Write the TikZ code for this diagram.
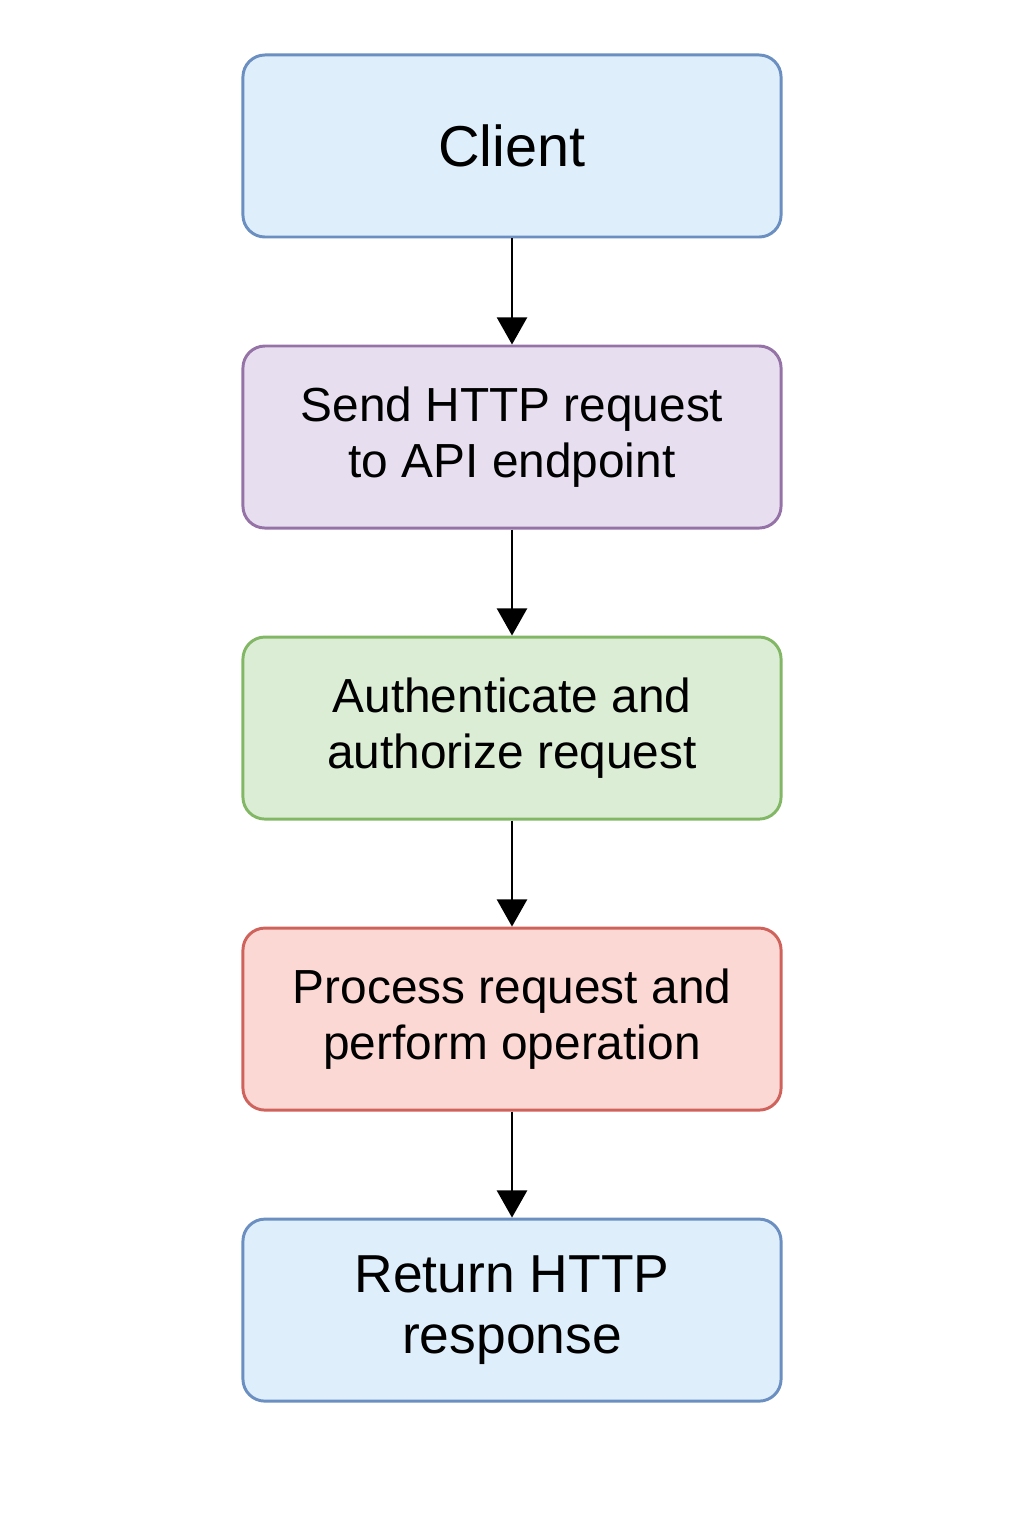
\documentclass[tikz,border=0pt]{standalone}
\usepackage{fontspec}
\setmainfont{Liberation Sans}
\usepackage{xcolor}
\usepackage{tikz}
\usetikzlibrary{arrows.meta,positioning}

\definecolor{bluefill}{HTML}{DFEEFB}
\definecolor{bluedraw}{HTML}{6A8FC0}
\definecolor{purplefill}{HTML}{E7DFF0}
\definecolor{purpledraw}{HTML}{9673A6}
\definecolor{greenfill}{HTML}{DCEDD6}
\definecolor{greendraw}{HTML}{82B865}
\definecolor{redfill}{HTML}{FBD8D3}
\definecolor{reddraw}{HTML}{D0625C}

\begin{document}
\begin{tikzpicture}[x=0.025cm, y=-0.025cm, node distance=2.65cm,
    every node/.style={font=\fontsize{34}{40}\selectfont},
    flowbox/.style={rectangle, rounded corners=0.55cm, line width=2.1pt,
        minimum width=13.45cm, minimum height=4.55cm, align=center, inner sep=0pt},
    flowarrow/.style={-{Triangle[width=0.75cm, length=0.68cm]}, line width=1.9pt}]
        % page frame
        \useasboundingbox (0,0) rectangle (1024,1536);

        % Steps
        \node[flowbox, draw=bluedraw, fill=bluefill,
              font=\fontsize{41}{46}\selectfont] (client) at (512,146) {Client};
        \node[flowbox, draw=purpledraw, fill=purplefill, below=of client] (send)
            {Send HTTP request\\to API endpoint};
        \node[flowbox, draw=greendraw, fill=greenfill, below=of send] (auth)
            {Authenticate and\\authorize request};
        \node[flowbox, draw=reddraw, fill=redfill, below=of auth] (process)
            {Process request and\\perform operation};
        \node[flowbox, draw=bluedraw, fill=bluefill, below=of process,
              font=\fontsize{38}{44}\selectfont] (return) {Return HTTP\\response};

        % Connectors
        \draw[flowarrow] (client) -- (send);
        \draw[flowarrow] (send) -- (auth);
        \draw[flowarrow] (auth) -- (process);
        \draw[flowarrow] (process) -- (return);
    \end{tikzpicture}
\end{document}
